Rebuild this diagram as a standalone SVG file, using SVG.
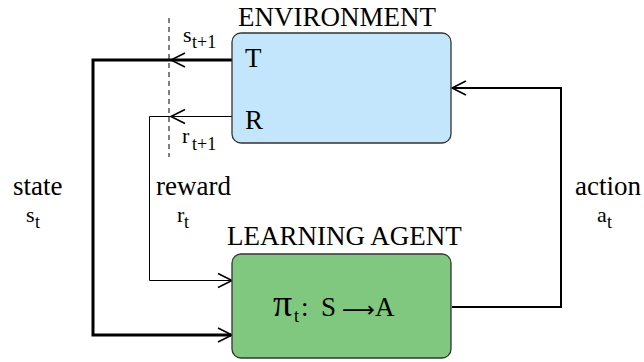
<svg xmlns="http://www.w3.org/2000/svg" width="644" height="362" viewBox="0 0 644 362">
<style>
text{font-family:'Liberation Serif','DejaVu Serif',serif;fill:#000}
.lbl{font-size:27px}
.sm{font-size:22px}
.sub{font-size:18px}
.box{stroke:#333;stroke-width:1.3}
.thick{fill:none;stroke:#000;stroke-width:3}
.mid{fill:none;stroke:#000;stroke-width:2}
.thin{fill:none;stroke:#000;stroke-width:1}
.head{fill:none;stroke:#000;stroke-width:1.6}
</style>
<rect width="644" height="362" fill="#fff"/>
<g id="connectors">
<line x1="169" y1="18" x2="169" y2="157" stroke="#000" stroke-width="1" stroke-dasharray="5,4"/>
<polyline class="thick" points="232,60 93,60 93,335 231,335"/>
<polyline class="head" points="185,53 171,60 185,67"/>
<polyline class="head" points="218,328 232,335 218,342"/>
<polyline class="thin" points="232,116.5 149.5,116.5 149.5,280.5 231,280.5"/>
<polyline class="head" points="185,109.5 171,116.5 185,123.5"/>
<polyline class="head" points="218,273.5 232,280.5 218,287.5"/>
<polyline class="mid" points="452,307 561,307 561,88 453,88"/>
<polyline class="head" points="466,81 452,88 466,95"/>
</g>
<g id="environment">
<rect class="box" x="232" y="33" width="219" height="110" rx="9" fill="#c4e6fc"/>
<text class="lbl" x="238" y="26">ENVIRONMENT</text>
<text class="lbl" x="245" y="67">T</text>
<text class="lbl" x="245" y="129">R</text>
</g>
<g id="agent">
<rect class="box" x="232" y="254" width="219" height="104" rx="9" fill="#80c880"/>
<text class="lbl" x="227" y="245">LEARNING AGENT</text>
<text x="273" y="316" style="font-size:38px">π<tspan x="294" y="322" class="sub">t</tspan><tspan x="301" y="316" class="lbl">:</tspan><tspan x="321" class="lbl">S</tspan></text>
<text x="342" y="317" style="font-family:'DejaVu Sans',sans-serif;font-size:22px" textLength="33" lengthAdjust="spacingAndGlyphs">⟶</text>
<text class="lbl" x="375" y="316">A</text>
</g>
<g id="labels">
<text class="sm" x="183" y="42">s<tspan class="sub" x="192" y="48">t+1</tspan></text>
<text class="sm" x="182" y="143">r<tspan class="sub" x="192" y="150">t+1</tspan></text>
<text class="lbl" x="13" y="195">state</text>
<text class="sm" x="26" y="222">s<tspan class="sub" x="35" y="228">t</tspan></text>
<text class="lbl" x="156" y="195">reward</text>
<text class="sm" x="177" y="222">r<tspan class="sub" x="184" y="228">t</tspan></text>
<text class="lbl" x="575" y="195">action</text>
<text class="sm" x="597" y="222">a<tspan class="sub" x="607" y="228">t</tspan></text>
</g>
</svg>
